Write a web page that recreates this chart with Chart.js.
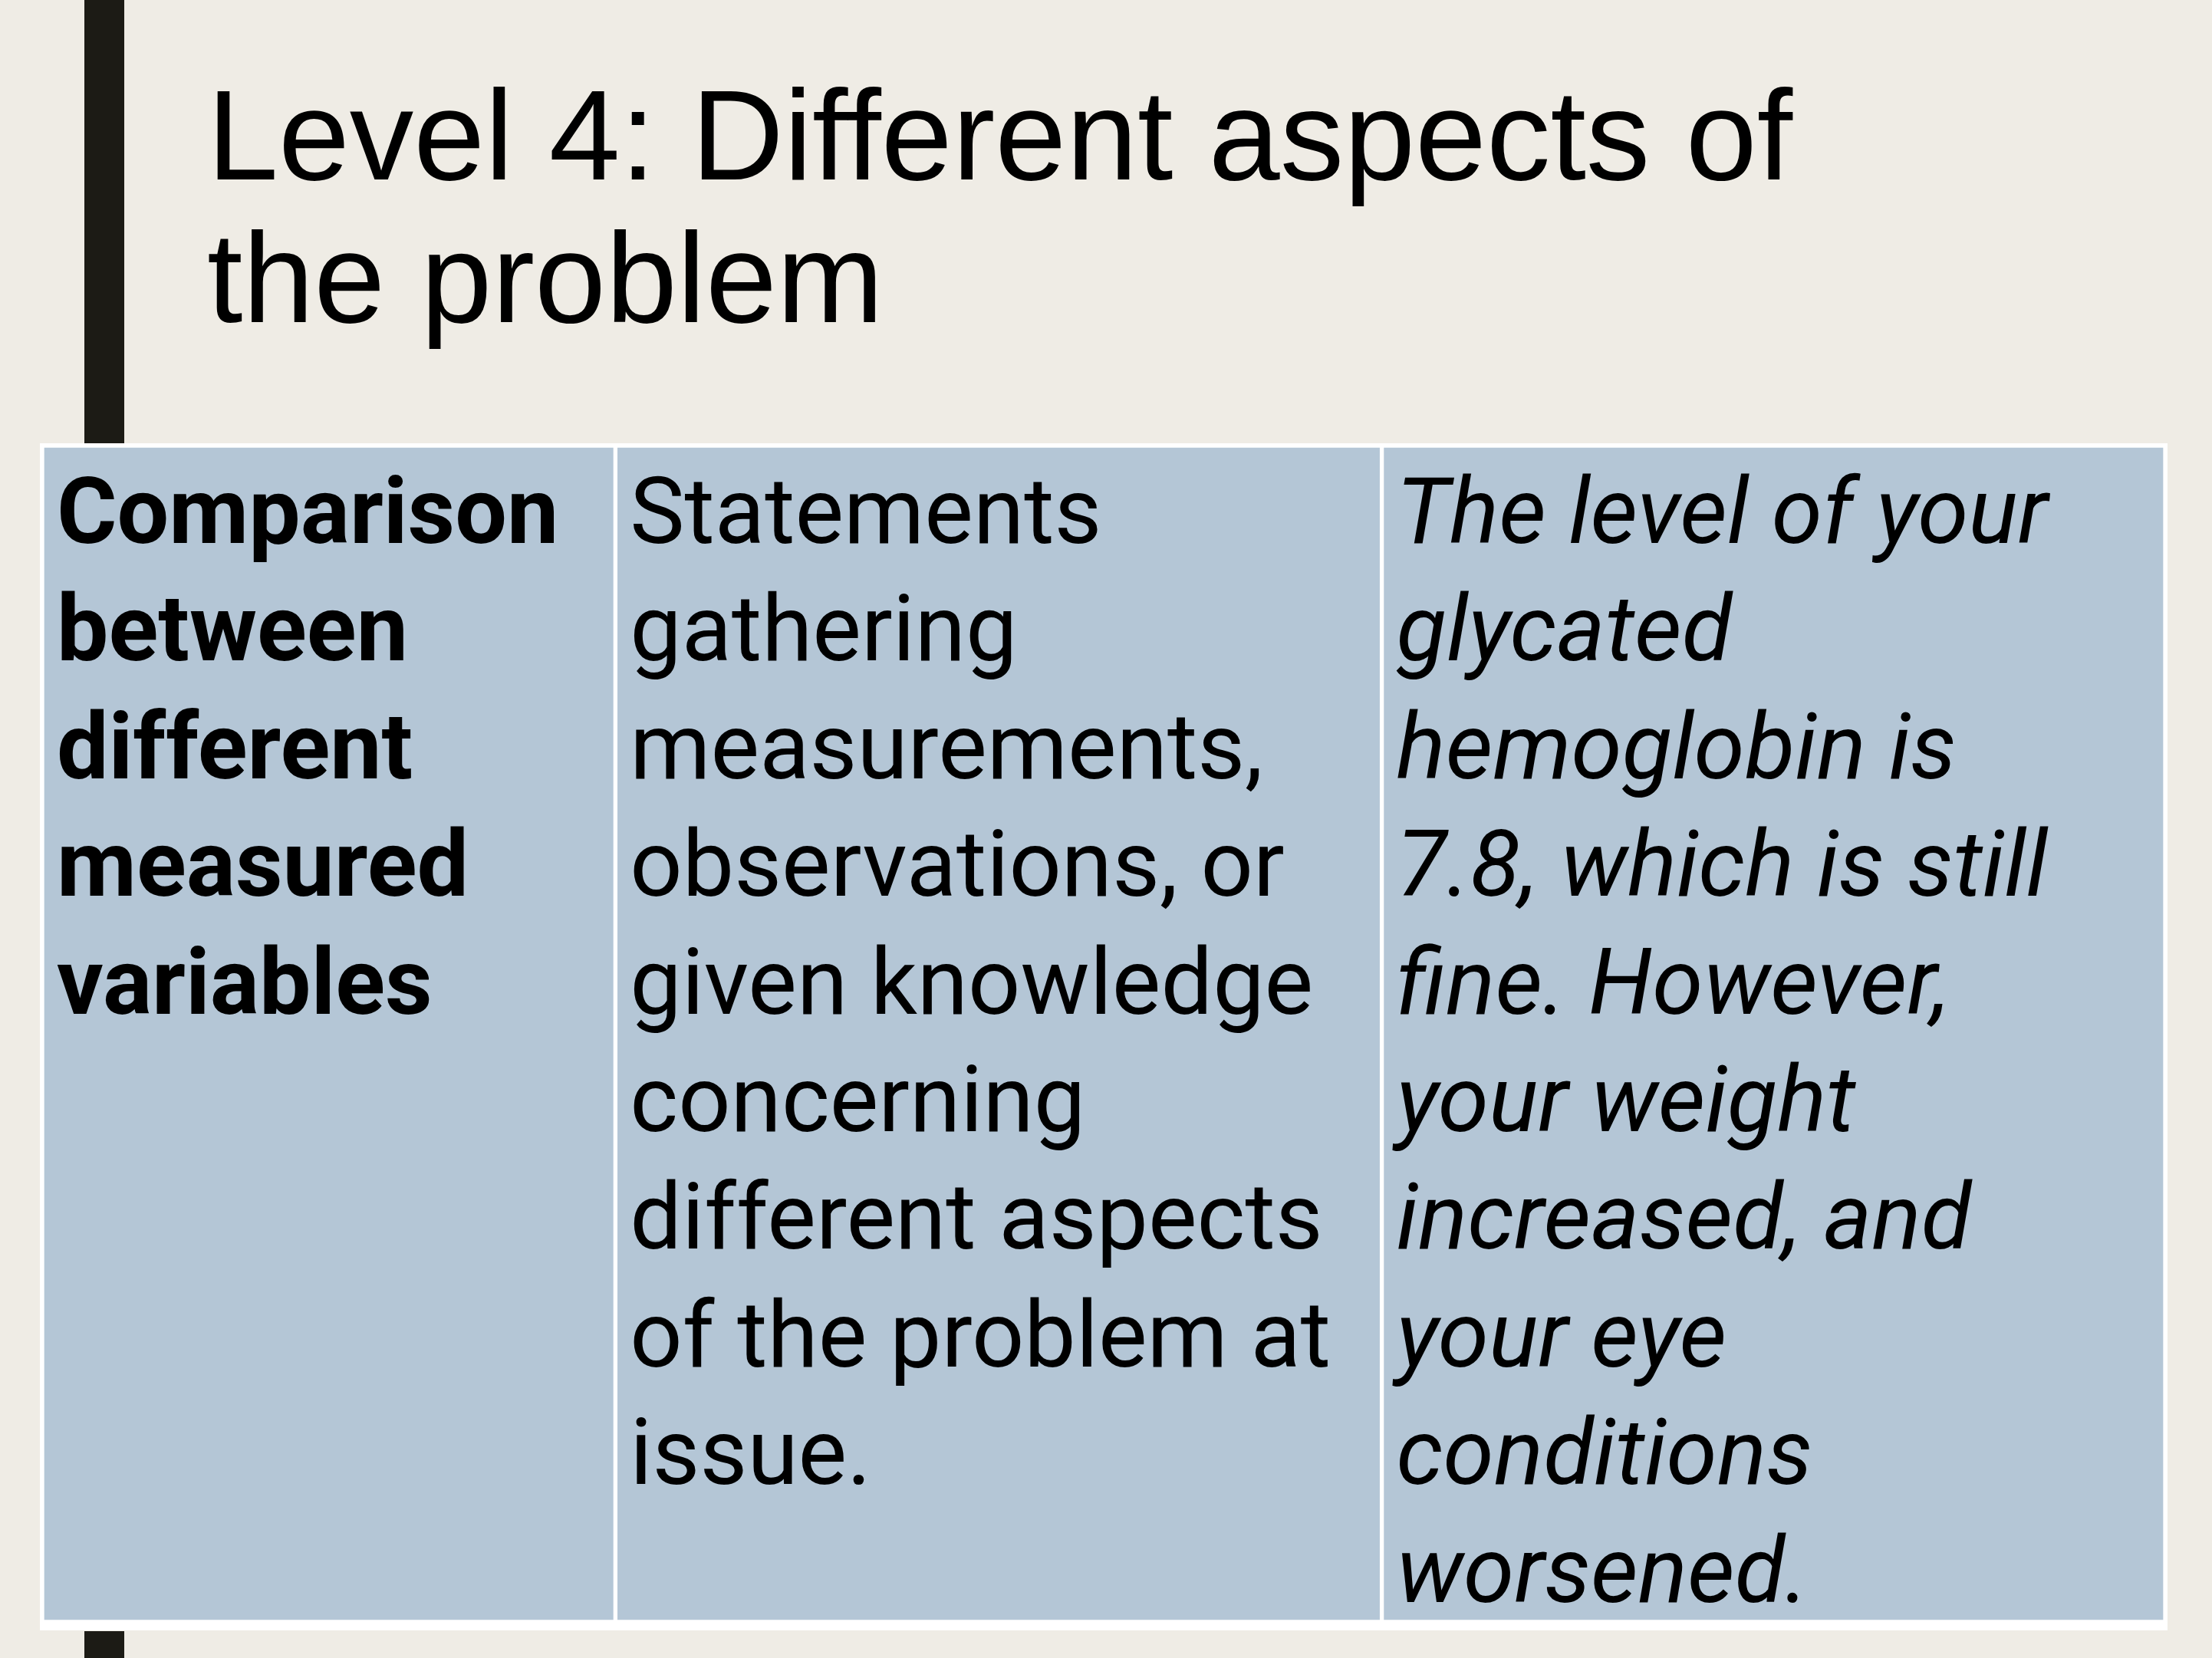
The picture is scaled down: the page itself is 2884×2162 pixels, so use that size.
<!DOCTYPE html>
<html>
<head>
<meta charset="utf-8">
<script src="https://cdn.jsdelivr.net/npm/chart.js@4"></script>
<style>
  html, body { margin: 0; padding: 0; background: #efece5; }
  canvas { display: block; }
</style>
</head>
<body>
<canvas id="slide" width="2884" height="2162"></canvas>
<script>
// slide text and table content
const TITLE_LINES = ['Level 4: Different aspects of', 'the problem']
const COLUMNS = ['level', 'definition', 'example']
const COLUMN_SHARE = [27.0, 36.1, 36.9] // % of table width per column
const LEVEL_LINES = ['Comparison', 'between', 'different', 'measured', 'variables']
const DEFINITION_LINES = [
  'Statements',
  'gathering',
  'measurements,',
  'observations, or',
  'given knowledge',
  'concerning',
  'different aspects',
  'of the problem at',
  'issue.',
]
const EXAMPLE_LINES = [
  'The level of your',
  'glycated',
  'hemoglobin is',
  '7.8, which is still',
  'fine. However,',
  'your weight',
  'increased, and',
  'your eye',
  'conditions',
  'worsened.',
]

const cellText = [LEVEL_LINES, DEFINITION_LINES, EXAMPLE_LINES]
const cellFont = ['bold', 'normal', 'italic']

// cumulative edges -> floating bars
let acc = 0
const spans = COLUMN_SHARE.map(w => { const s = [acc, acc + w]; acc += w; return s })

const slidePlugin = {
  id: 'slide',
  beforeDraw(chart) {
    const { ctx } = chart
    ctx.save()
    ctx.fillStyle = '#efece5'
    ctx.fillRect(0, 0, chart.width, chart.height)
    // accent bar on the left
    ctx.fillStyle = '#1c1b15'
    ctx.fillRect(110, 0, 52, 580)
    ctx.fillRect(110, 2127, 52, 40)
    // white rim under the table
    const a = chart.chartArea
    ctx.fillStyle = '#ffffff'
    ctx.fillRect(a.left - 3, a.top - 3, a.right - a.left + 6, a.bottom - a.top + 14)
    // title
    ctx.fillStyle = '#000000'
    ctx.font = '167px "Liberation Sans", Arial, sans-serif'
    ctx.textBaseline = 'alphabetic'
    TITLE_LINES.forEach((t, i) => ctx.fillText(t, 270, 234 + i * 186))
    ctx.restore()
  },
  afterDatasetsDraw(chart) {
    const { ctx } = chart
    ctx.save()
    ctx.fillStyle = '#000000'
    ctx.textBaseline = 'alphabetic'
    chart.data.datasets.forEach((ds, i) => {
      const bar = chart.getDatasetMeta(i).data[0]
      const left = Math.min(bar.x, bar.base)
      const top = bar.y - bar.height / 2
      ctx.font = (cellFont[i] === 'bold' ? 'bold ' : cellFont[i] === 'italic' ? 'italic ' : '') +
        '120px Roboto, "Liberation Sans", sans-serif'
      cellText[i].forEach((line, j) => ctx.fillText(line, left + 19, top + 127 + j * 153.4))
    })
    ctx.restore()
  }
}

new Chart(document.getElementById('slide'), {
  type: 'bar',
  data: {
    labels: ['row'],
    datasets: COLUMNS.map((c, i) => ({
      label: c,
      data: [spans[i]],
      backgroundColor: '#b4c6d6',
      borderColor: '#ffffff',
      borderWidth: 3,
      borderSkipped: false,
      grouped: false,
      barPercentage: 1,
      categoryPercentage: 1,
    })),
  },
  options: {
    indexAxis: 'y',
    responsive: false,
    animation: false,
    devicePixelRatio: 1,
    layout: { padding: { left: 55, right: 61, top: 581, bottom: 47 } },
    plugins: {
      legend: { display: false },
      tooltip: { enabled: false },
      title: { display: false },
    },
    scales: {
      x: { type: 'linear', min: 0, max: 100, display: false },
      y: { display: false },
    },
  },
  plugins: [slidePlugin],
})
</script>
</body>
</html>
